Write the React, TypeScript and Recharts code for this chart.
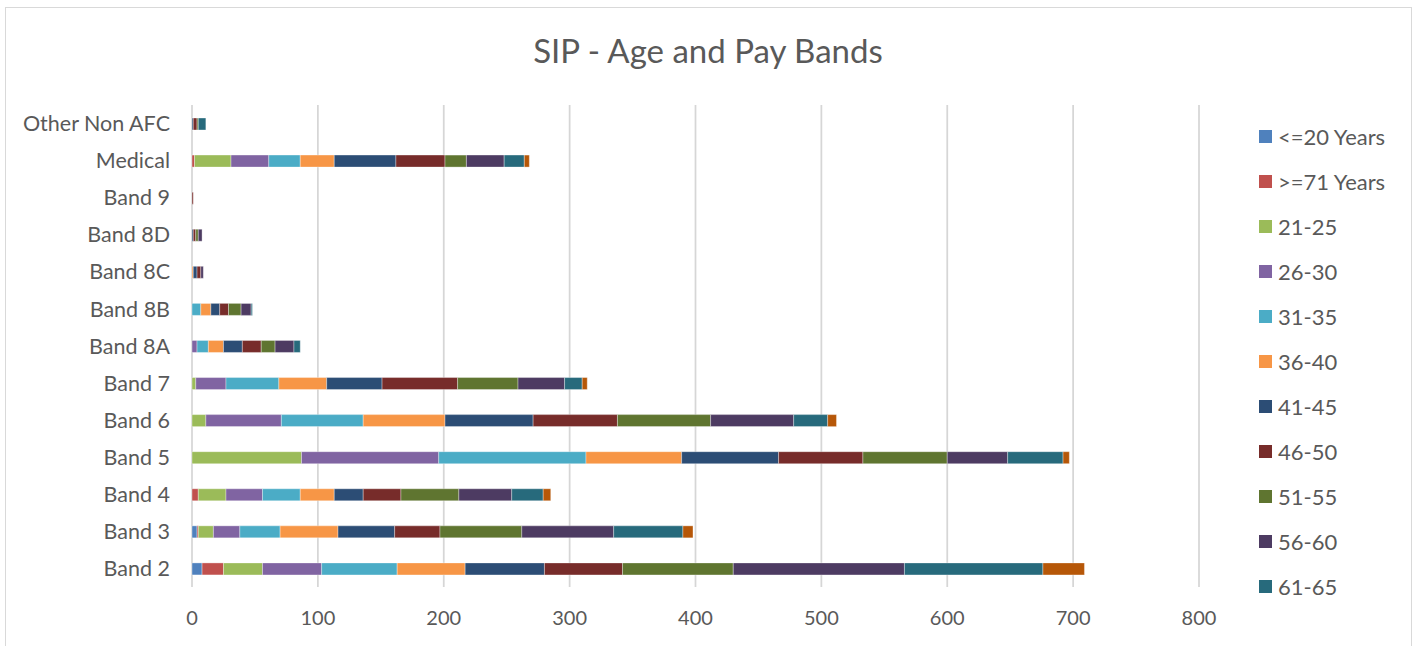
import { Bar, BarChart, CartesianGrid, XAxis, YAxis } from "recharts";

// Pay bands, listed top to bottom as they appear on the chart.
const BANDS = [
  "Other Non AFC",
  "Medical",
  "Band 9",
  "Band 8D",
  "Band 8C",
  "Band 8B",
  "Band 8A",
  "Band 7",
  "Band 6",
  "Band 5",
  "Band 4",
  "Band 3",
  "Band 2",
];

// Headcount per age group, one value per band in BANDS order.
const UNDER_20 = [0, 0, 0, 0, 0, 0, 0, 0, 0, 0, 0, 4, 8];
const OVER_71 = [0, 2, 0, 0, 0, 0, 0, 0, 0, 0, 5, 1, 17];
const AGE_21_25 = [0, 29, 0, 0, 0, 0, 0, 3, 11, 87, 22, 12, 31];
const AGE_26_30 = [0, 30, 0, 0, 0, 0, 4, 24, 60, 109, 29, 21, 47];
const AGE_31_35 = [0, 25, 0, 0, 0, 7, 9, 42, 65, 117, 30, 32, 60];
const AGE_36_40 = [0, 27, 0, 0, 1, 8, 12, 38, 65, 76, 27, 46, 54];
const AGE_41_45 = [1, 49, 0, 1, 3, 7, 15, 44, 70, 77, 23, 45, 63];
const AGE_46_50 = [3, 39, 1, 2, 3, 7, 15, 60, 67, 67, 30, 36, 62];
const AGE_51_55 = [1, 17, 0, 2, 0, 10, 11, 48, 74, 67, 46, 65, 88];
const AGE_56_60 = [0, 30, 0, 3, 2, 8, 15, 37, 66, 48, 42, 73, 136];
const AGE_61_65 = [6, 16, 0, 0, 0, 1, 5, 14, 27, 44, 25, 55, 110];
const AGE_66_70 = [0, 4, 0, 0, 0, 0, 0, 4, 7, 5, 6, 8, 33];

const X_TICKS = [0, 100, 200, 300, 400, 500, 600, 700, 800];

const SERIES = [
  { key: "<=20 Years", values: UNDER_20, color: "#4F81BD" },
  { key: ">=71 Years", values: OVER_71, color: "#C0504D" },
  { key: "21-25", values: AGE_21_25, color: "#9BBB59" },
  { key: "26-30", values: AGE_26_30, color: "#8064A2" },
  { key: "31-35", values: AGE_31_35, color: "#4BACC6" },
  { key: "36-40", values: AGE_36_40, color: "#F79646" },
  { key: "41-45", values: AGE_41_45, color: "#2C4D75" },
  { key: "46-50", values: AGE_46_50, color: "#772C2A" },
  { key: "51-55", values: AGE_51_55, color: "#5F7530" },
  { key: "56-60", values: AGE_56_60, color: "#4D3B62" },
  { key: "61-65", values: AGE_61_65, color: "#276A7C" },
  { key: "66-70", values: AGE_66_70, color: "#B65708" },
];

// the legend box only has room for the first eleven entries
const LEGEND_ITEMS = SERIES.slice(0, 11);

const rows = BANDS.map((band, i) => {
  const row: Record<string, string | number> = { band };
  SERIES.forEach((s) => {
    row[s.key] = s.values[i];
  });
  return row;
});

const FONT = "Lato, 'Open Sans', sans-serif";
const TEXT = "#595959";

export default function App() {
  return (
    <div
      style={{
        position: "absolute",
        left: 0,
        top: 0,
        width: 1418,
        height: 646,
        overflow: "hidden",
        background: "#fff",
        fontFamily: FONT,
      }}
    >
      <div
        style={{
          position: "absolute",
          left: 5,
          top: 7,
          width: 1405,
          height: 660,
          border: "1.5px solid #d9d9d9",
        }}
      />
      <div
        style={{
          position: "absolute",
          left: 0,
          top: 29,
          width: 1416,
          textAlign: "center",
          fontSize: 33,
          color: TEXT,
          lineHeight: "42px",
        }}
      >
        SIP - Age and Pay Bands
      </div>

      <div style={{ position: "absolute", left: 0, top: 0 }}>
        <BarChart
          width={1418}
          height={646}
          data={rows}
          layout="vertical"
          margin={{ top: 105, right: 219, bottom: 29, left: 12 }}
          barSize={12}
        >
          <CartesianGrid horizontal={false} stroke="#d6d6d6" strokeWidth={1.75} />
          <XAxis
            type="number"
            domain={[0, 800]}
            ticks={X_TICKS}
            height={30}
            axisLine={false}
            tickLine={false}
            tickMargin={18}
            tick={{ fill: TEXT, fontSize: 20, fontFamily: FONT }}
          />
          <YAxis
            type="category"
            dataKey="band"
            width={180}
            axisLine={false}
            tickLine={false}
            tickMargin={16}
            interval={0}
            tick={{ fill: TEXT, fontSize: 21.5, fontFamily: FONT }}
          />
          {SERIES.map((s) => (
            <Bar
              key={s.key}
              dataKey={s.key}
              stackId="age"
              fill={s.color}
              stroke="#ffffff"
              strokeOpacity={0.45}
              strokeWidth={0.75}
              isAnimationActive={false}
            />
          ))}
        </BarChart>
      </div>

      <div style={{ position: "absolute", left: 1259, top: 114 }}>
        {LEGEND_ITEMS.map((s) => (
          <div
            key={s.key}
            style={{ display: "flex", alignItems: "center", height: 45 }}
          >
            <span
              style={{
                display: "inline-block",
                width: 13,
                height: 13,
                background: s.color,
                marginRight: 6,
              }}
            />
            <span style={{ fontSize: 22, color: TEXT, whiteSpace: "nowrap" }}>
              {s.key}
            </span>
          </div>
        ))}
      </div>
    </div>
  );
}
